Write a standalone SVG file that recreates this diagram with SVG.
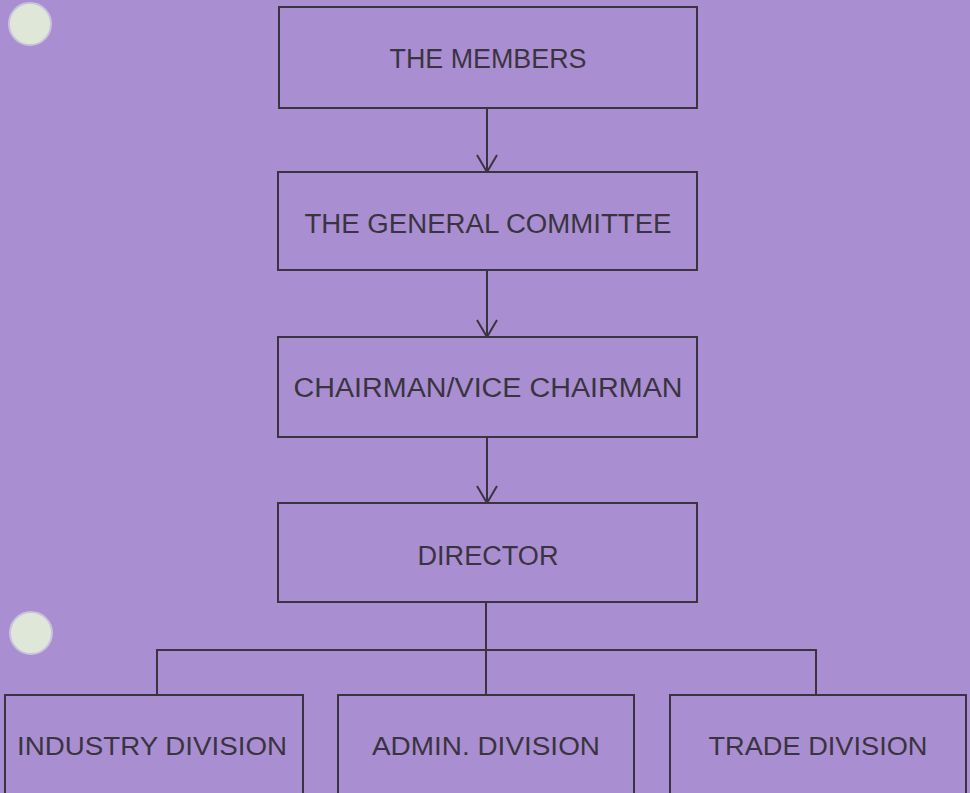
<svg xmlns="http://www.w3.org/2000/svg" width="970" height="793" viewBox="0 0 970 793">
<defs>
<style>
.box{fill:none;stroke:#3b3440;stroke-width:2}
.t{font-family:"Liberation Sans",Arial,sans-serif;font-size:27px;fill:#3b3440;text-anchor:middle}
.tb{font-family:"Liberation Sans",Arial,sans-serif;font-size:25px;fill:#3b3440;text-anchor:middle}
.ln{fill:none;stroke:#3b3440;stroke-width:2}
.hole{fill:#dfe8d8;stroke:#c9c2dc;stroke-width:2}
</style>
<marker id="arr" viewBox="0 0 19 22" refX="18" refY="11" markerWidth="19" markerHeight="22" markerUnits="userSpaceOnUse" orient="auto">
<path d="M1,1 L18,11 L1,21" fill="none" stroke="#3b3440" stroke-width="2"/>
</marker>
</defs>
<rect width="970" height="793" fill="#a98fd2"/>
<circle class="hole" cx="30" cy="24" r="21"/>
<circle class="hole" cx="31" cy="633" r="21"/>
<g id="members"><rect class="box" x="279" y="7" width="418" height="101"/><text class="t" x="488" y="68" textLength="197" lengthAdjust="spacingAndGlyphs">THE MEMBERS</text></g>
<g id="general-committee"><rect class="box" x="278" y="172" width="419" height="98"/><text class="t" x="488" y="233" textLength="367" lengthAdjust="spacingAndGlyphs">THE GENERAL COMMITTEE</text></g>
<g id="chairman"><rect class="box" x="278" y="337" width="419" height="100"/><text class="t" x="488" y="397" textLength="389" lengthAdjust="spacingAndGlyphs">CHAIRMAN/VICE CHAIRMAN</text></g>
<g id="director"><rect class="box" x="278" y="503" width="419" height="99"/><text class="t" x="488" y="565" textLength="141" lengthAdjust="spacingAndGlyphs">DIRECTOR</text></g>
<g id="industry"><rect class="box" x="5" y="695" width="298" height="110"/><text class="tb" x="152" y="755" textLength="270" lengthAdjust="spacingAndGlyphs">INDUSTRY DIVISION</text></g>
<g id="admin"><rect class="box" x="338" y="695" width="296" height="110"/><text class="tb" x="486" y="755" textLength="228" lengthAdjust="spacingAndGlyphs">ADMIN. DIVISION</text></g>
<g id="trade"><rect class="box" x="670" y="695" width="296" height="110"/><text class="tb" x="818" y="755" textLength="219" lengthAdjust="spacingAndGlyphs">TRADE DIVISION</text></g>
<g id="connectors">
<line class="ln" x1="487" y1="108" x2="487" y2="172" marker-end="url(#arr)"/>
<line class="ln" x1="487" y1="270" x2="487" y2="337" marker-end="url(#arr)"/>
<line class="ln" x1="487" y1="437" x2="487" y2="503" marker-end="url(#arr)"/>
<line class="ln" x1="486" y1="602" x2="486" y2="695"/>
<polyline class="ln" points="157,695 157,650 816,650 816,695"/>
</g>
</svg>
